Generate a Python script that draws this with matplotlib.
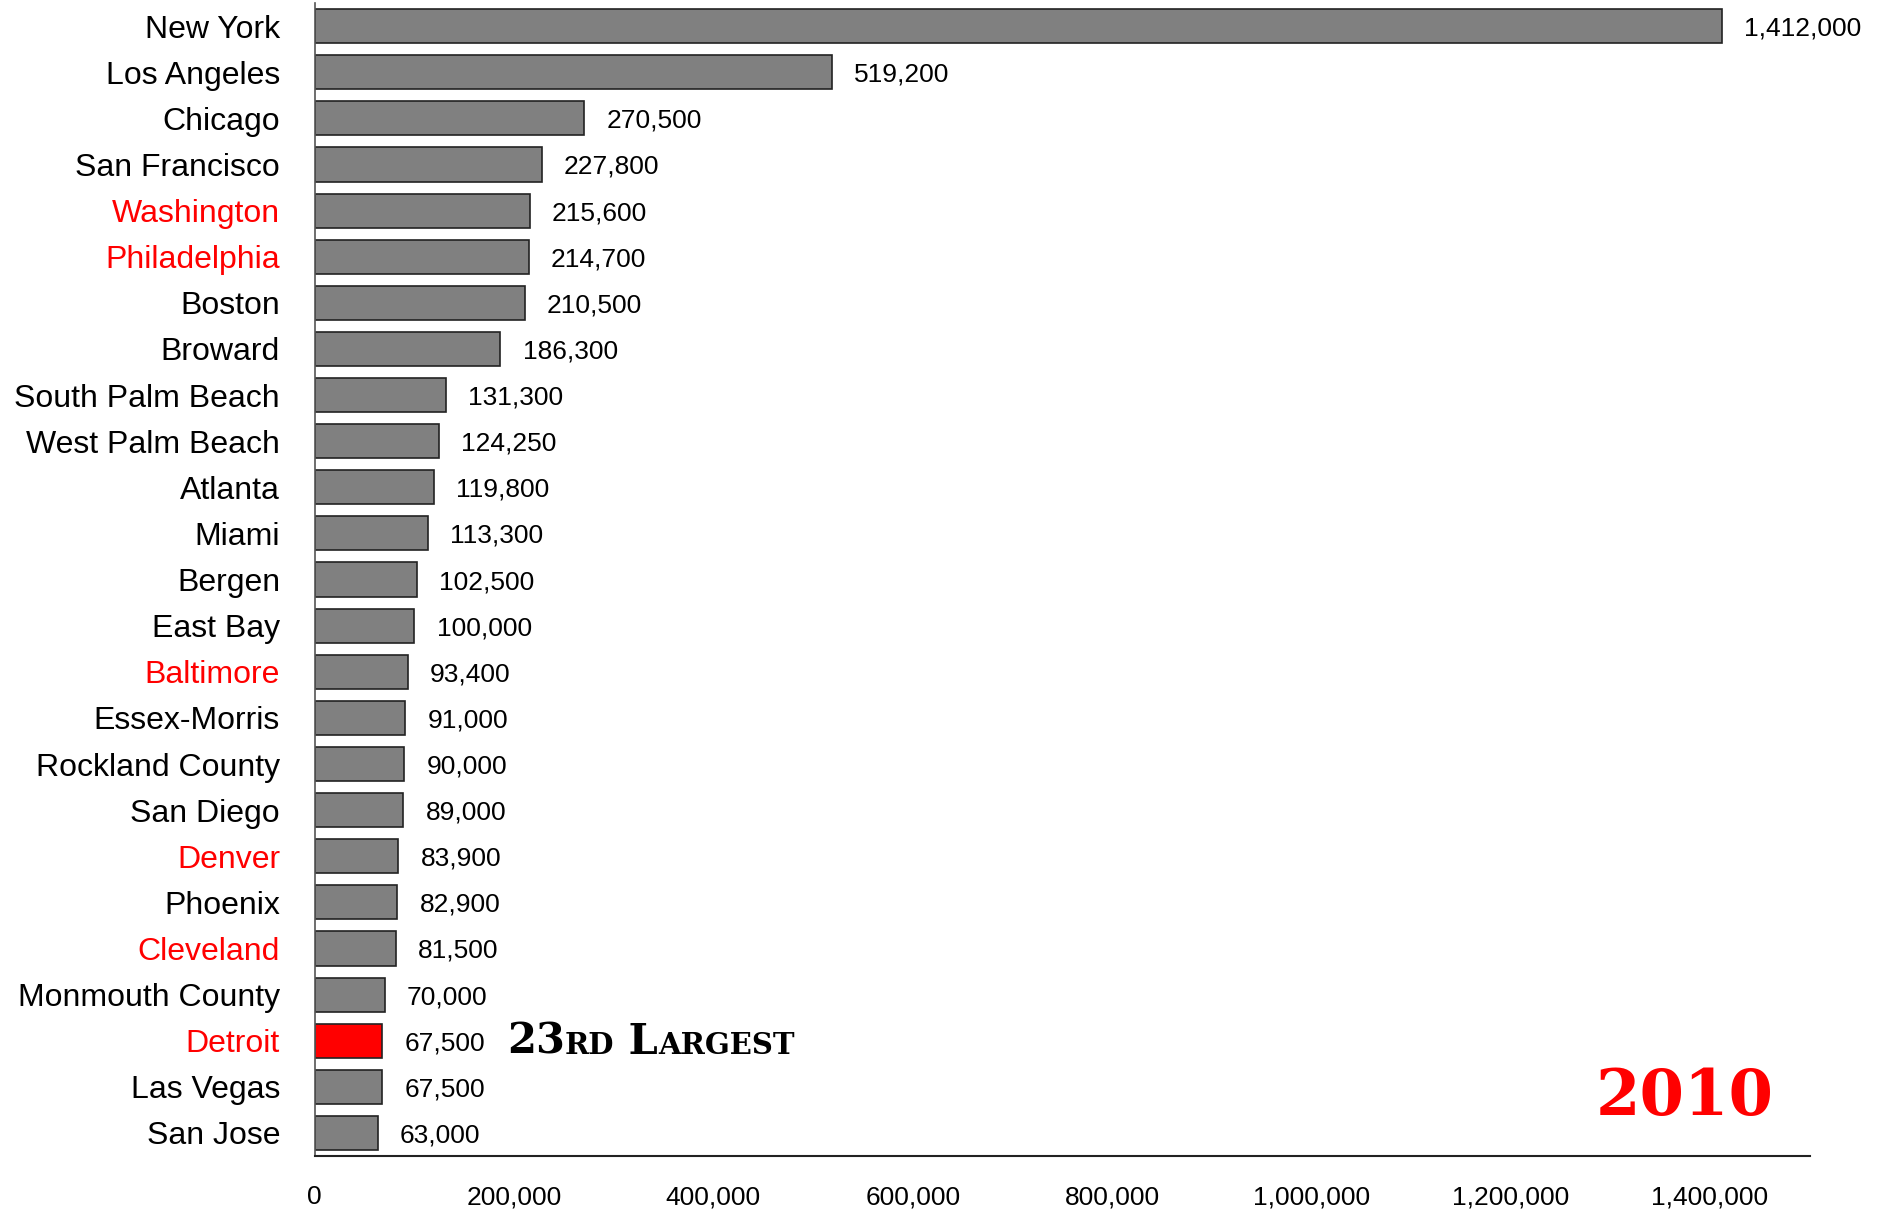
import matplotlib
matplotlib.use('Agg')
import matplotlib.pyplot as plt
from matplotlib.transforms import IdentityTransform

cities = ['New York', 'Los Angeles', 'Chicago', 'San Francisco', 'Washington',
          'Philadelphia', 'Boston', 'Broward', 'South Palm Beach', 'West Palm Beach',
          'Atlanta', 'Miami', 'Bergen', 'East Bay', 'Baltimore', 'Essex-Morris',
          'Rockland County', 'San Diego', 'Denver', 'Phoenix', 'Cleveland',
          'Monmouth County', 'Detroit', 'Las Vegas', 'San Jose']
population = [1412000, 519200, 270500, 227800, 215600, 214700, 210500, 186300,
              131300, 124250, 119800, 113300, 102500, 100000, 93400, 91000,
              90000, 89000, 83900, 82900, 81500, 70000, 67500, 67500, 63000]
red_labels = ['Washington', 'Philadelphia', 'Baltimore', 'Denver', 'Cleveland', 'Detroit']
highlight = 'Detroit'
year = '2010'
xticks = [0, 200000, 400000, 600000, 800000, 1000000, 1200000, 1400000]

plt.rcParams['font.family'] = ['Liberation Sans', 'DejaVu Sans']

fig = plt.figure(figsize=(18.85, 12.10), dpi=100)
ax = fig.add_axes([0.167, 0.0446, 0.793, 0.9529])

ypos = list(range(len(cities)))
colors = ['#ff0000' if c == highlight else '#808080' for c in cities]
bars = ax.barh(ypos, population, height=0.74, color=colors, edgecolor='#222222', linewidth=1.2)

ax.set_ylim(len(cities) - 0.5, -0.5)
ax.set_xlim(0, 1500000)

ax.set_yticks(ypos)
ax.set_yticklabels(cities, fontsize=23)
for lbl in ax.get_yticklabels():
    if lbl.get_text() in red_labels:
        lbl.set_color('#ff0000')
ax.tick_params(axis='y', length=0, pad=25)

ax.set_xticks(xticks)
ax.set_xticklabels(['{:,}'.format(t) for t in xticks], fontsize=19)
ax.tick_params(axis='x', length=0, pad=21)

for s in ['top', 'right']:
    ax.spines[s].set_visible(False)
ax.spines['left'].set_color('#555555')
ax.spines['bottom'].set_color('#222222')
ax.spines['left'].set_linewidth(1.2)
ax.spines['bottom'].set_linewidth(1.5)

# value labels
for b, v in zip(bars, population):
    ax.annotate('{:,}'.format(v), (v, b.get_y() + b.get_height() / 2),
                xytext=(16, 0), textcoords='offset points',
                va='center_baseline', ha='left', fontsize=19)

# "23rd Largest" in fake small caps next to Detroit
fig.canvas.draw()
renderer = fig.canvas.get_renderer()
di = cities.index(highlight)
px, py = ax.transData.transform((population[di], di))
x_cur = px + 125
base = py - 13
parts = [('23', 30), ('RD', 21), (' L', 30), ('ARGEST', 21)]
for txt, size in parts:
    t = fig.text(x_cur, base, txt, transform=IdentityTransform(), fontsize=size,
                 family='DejaVu Serif', weight='bold', va='baseline', ha='left')
    x_cur = t.get_window_extent(renderer).x1

ax.text(0.9164, 0.056, year, transform=ax.transAxes, ha='center', va='center_baseline',
        fontsize=46, family='DejaVu Serif', weight='bold', color='#ff0000')

fig.savefig('out.png', dpi=100)
